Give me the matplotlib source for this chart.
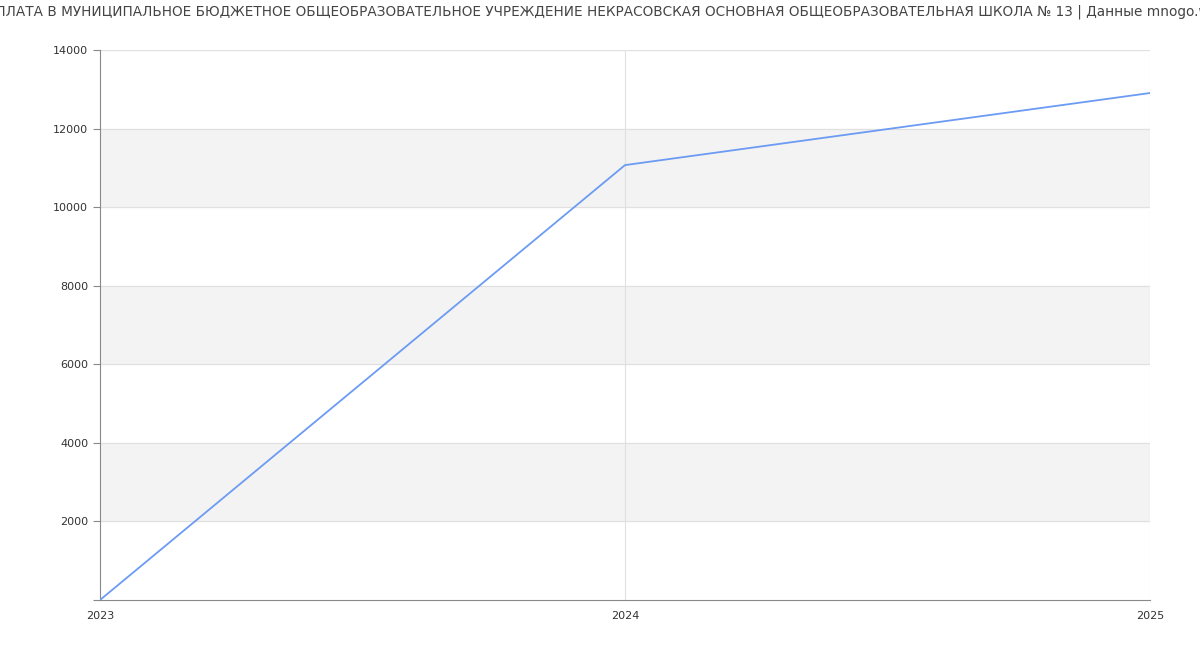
import matplotlib.pyplot as plt

years = [2023, 2024, 2025]
salary = [0, 11070, 12905]
y_ticks = [0, 2000, 4000, 6000, 8000, 10000, 12000, 14000]
y_labels = ["", "2000", "4000", "6000", "8000", "10000", "12000", "14000"]

title = ("ЗАРПЛАТА В МУНИЦИПАЛЬНОЕ БЮДЖЕТНОЕ ОБЩЕОБРАЗОВАТЕЛЬНОЕ УЧРЕЖДЕНИЕ "
         "НЕКРАСОВСКАЯ ОСНОВНАЯ ОБЩЕОБРАЗОВАТЕЛЬНАЯ ШКОЛА № 13 | Данные mnogo.work")

fig = plt.figure(figsize=(12, 6.5), dpi=100)
ax = fig.add_axes([100 / 1200, 50 / 650, 1050 / 1200, 550 / 650])

# alternating grey bands
for lo in range(0, 14000, 4000):
    ax.axhspan(lo + 2000, lo + 4000, color="#f3f3f3", zorder=0)
for t in y_ticks[1:]:
    ax.axhline(t, color="#e0e0e0", lw=0.8, zorder=1)
for yr in years[1:]:
    ax.axvline(yr, color="#e0e0e0", lw=0.8, zorder=1)

ax.plot(years, salary, color="#6b9bf2", lw=1.3, zorder=3)

ax.set_xlim(2023, 2025)
ax.set_ylim(0, 14000)
ax.set_xticks(years)
ax.set_xticklabels([str(y) for y in years])
ax.set_yticks(y_ticks)
ax.set_yticklabels(y_labels)
ax.tick_params(axis="y", labelsize=8, labelcolor="#333333", length=5,
               width=0.8, color="#888888")
ax.tick_params(axis="x", labelsize=8, labelcolor="#333333", length=0, pad=8)

for s in ["top", "right"]:
    ax.spines[s].set_visible(False)
for s in ["left", "bottom"]:
    ax.spines[s].set_color("#888888")
    ax.spines[s].set_linewidth(0.8)

fig.text(0.5, 1 - 12 / 650, title, ha="center", va="center",
         fontsize=9.8, color="#444444")

plt.savefig("out.png", dpi=100)
